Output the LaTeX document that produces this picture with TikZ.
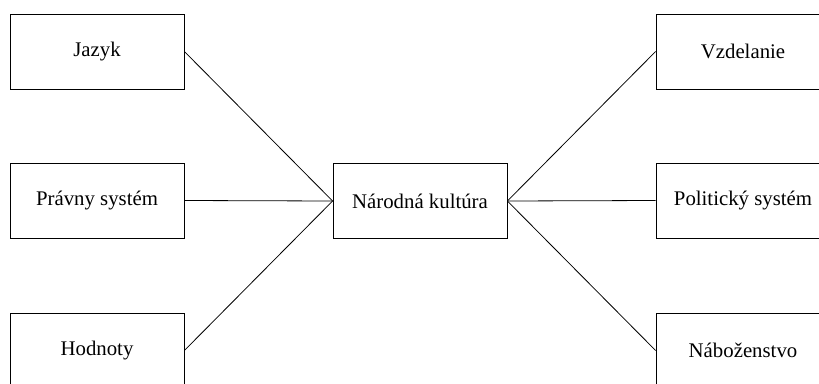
\documentclass[tikz,border=0pt]{standalone}
\usepackage{fontspec}
\setmainfont{Liberation Serif}
\begin{document}
\begin{tikzpicture}[x=1pt,y=-1pt,
  box/.style={draw=black, line width=0.8pt, fill=white, minimum width=174pt, minimum height=75pt,
    inner sep=0pt, font=\fontsize{20.8}{24}\selectfont},
  link/.style={draw=black, line width=0.8pt}]
  \useasboundingbox (0,0) rectangle (819,383);
  \clip (0,0) rectangle (819,383);
  \fill[white] (0,0) rectangle (819,383);
  % central node
  \node[box] (center) at (420,201) {Národná kultúra};
  % left column
  \node[box] (jazyk)  at (97,51.5)  {Jazyk};
  \node[box] (pravny) at (97,200.5) {Právny systém};
  \node[box] (hodn)   at (97,350.5) {Hodnoty};
  % right column
  \node[box] (vzdel)  at (743,51.5)  {Vzdelanie};
  \node[box] (polit)  at (743,200.5) {Politický systém};
  \node[box] (nabo)   at (743,350.5) {Náboženstvo};
  % connectors
  \draw[link] (jazyk.east)  -- (center.west);
  \draw[link] (pravny.east) -- (center.west);
  \draw[link] (hodn.east)   -- (center.west);
  \draw[link] (vzdel.west)  -- (center.east);
  \draw[link] (polit.west)  -- (center.east);
  \draw[link] (nabo.west)   -- (center.east);
\end{tikzpicture}
\end{document}
